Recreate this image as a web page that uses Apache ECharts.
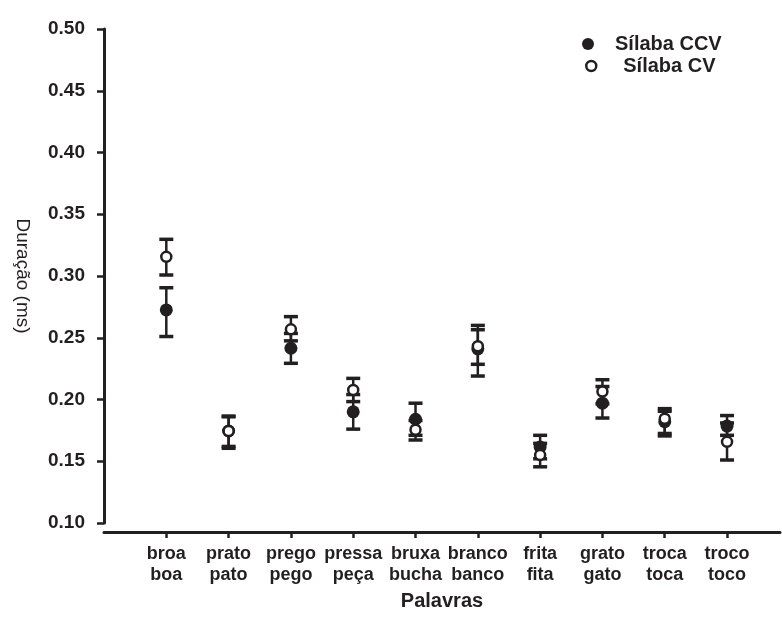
<!DOCTYPE html>
<html>
<head>
<meta charset="utf-8">
<script src="https://cdn.jsdelivr.net/npm/echarts@6/dist/echarts.min.js"></script>
<style>html,body{margin:0;padding:0;background:#fff}#c{width:782px;height:637px}</style>
</head>
<body>
<div id="c"></div>
<script>
// Data
var ccvWords = ['broa', 'prato', 'prego', 'pressa', 'bruxa', 'branco', 'frita', 'grato', 'troca', 'troco'];
var cvWords  = ['boa', 'pato', 'pego', 'peça', 'bucha', 'banco', 'fita', 'gato', 'toca', 'toco'];
var ccvMean = [0.2725, 0.1745, 0.2415, 0.190, 0.184, 0.241, 0.1615, 0.197, 0.182, 0.1785];
var ccvHigh = [0.2905, 0.1860, 0.2535, 0.204, 0.197, 0.260, 0.1710, 0.2105, 0.1905, 0.187];
var ccvLow  = [0.2510, 0.1605, 0.2293, 0.176, 0.171, 0.219, 0.1520, 0.185, 0.1705, 0.171];
var cvMean  = [0.3155, 0.1745, 0.2568, 0.2077, 0.1755, 0.2432, 0.155, 0.2065, 0.1845, 0.1657];
var cvHigh  = [0.3297, 0.1866, 0.2671, 0.2171, 0.183, 0.2565, 0.1645, 0.216, 0.1926, 0.181];
var cvLow   = [0.3008, 0.1620, 0.2475, 0.1983, 0.1672, 0.2285, 0.1455, 0.1965, 0.1725, 0.151];
var yTicks = { min: 0.10, max: 0.50, step: 0.05 };

var INK = '#231f20';
var FONT = '"Liberation Sans", Arial, sans-serif';
var positions = ccvWords.map(function (_, i) { return i + 1; });

function errData(lo, hi) {
  return positions.map(function (x, i) { return [x, lo[i], hi[i]]; });
}
function ptData(m) {
  return positions.map(function (x, i) { return [x, m[i]]; });
}
function renderErr(params, api) {
  var x = api.value(0);
  var pLo = api.coord([x, api.value(1)]);
  var pHi = api.coord([x, api.value(2)]);
  var hw = 7;
  return {
    type: 'group',
    children: [
      { type: 'line', shape: { x1: pHi[0], y1: pHi[1], x2: pLo[0], y2: pLo[1] }, style: { stroke: INK, lineWidth: 2.5 } },
      { type: 'line', shape: { x1: pHi[0] - hw, y1: pHi[1], x2: pHi[0] + hw, y2: pHi[1] }, style: { stroke: INK, lineWidth: 3.5 } },
      { type: 'line', shape: { x1: pLo[0] - hw, y1: pLo[1], x2: pLo[0] + hw, y2: pLo[1] }, style: { stroke: INK, lineWidth: 3.5 } }
    ]
  };
}

var chart = echarts.init(document.getElementById('c'));
chart.setOption({
  animation: false,
  backgroundColor: '#fff',
  textStyle: { fontFamily: FONT, color: INK },
  grid: { left: 104, right: 2, top: 29, bottom: 114, containLabel: false },
  legend: [
    {
      data: [{ name: 'Sílaba CCV', icon: 'circle', itemStyle: { color: INK, borderWidth: 0 } }],
      left: 582, top: 34, padding: 0, itemWidth: 12, itemHeight: 12,
      textStyle: { fontFamily: FONT, fontWeight: 'bold', fontSize: 20, color: INK, padding: [0, 0, 0, 16] }
    },
    {
      data: [{ name: 'Sílaba CV', icon: 'circle', itemStyle: { color: '#fff', borderColor: INK, borderWidth: 2.5 } }],
      left: 585, top: 56, padding: 0, itemWidth: 10, itemHeight: 10,
      textStyle: { fontFamily: FONT, fontWeight: 'bold', fontSize: 20, color: INK, padding: [0, 0, 0, 22] }
    }
  ],
  xAxis: {
    type: 'value',
    min: 0, max: 10.85, interval: 1,
    offset: 9,
    name: 'Palavras',
    nameLocation: 'middle',
    nameGap: 59,
    nameTextStyle: { fontFamily: FONT, fontWeight: 'bold', fontSize: 20, color: INK },
    axisLine: { show: true, onZero: false, lineStyle: { color: INK, width: 3 } },
    axisTick: { show: true, length: 6, lineStyle: { color: INK, width: 2.5 }, customValues: positions },
    axisLabel: {
      customValues: positions,
      margin: 12,
      fontFamily: FONT, fontWeight: 'bold', fontSize: 18, color: INK, lineHeight: 21,
      formatter: function (v) {
        var i = Math.round(v) - 1;
        return (i >= 0 && i < ccvWords.length) ? ccvWords[i] + '\n' + cvWords[i] : '';
      }
    },
    splitLine: { show: false }
  },
  yAxis: {
    type: 'value',
    min: yTicks.min, max: yTicks.max, interval: yTicks.step,
    offset: 2,
    name: 'Duração (ms)',
    nameLocation: 'middle',
    nameGap: 70,
    nameRotate: -90,
    nameTextStyle: { fontFamily: FONT, fontSize: 19, color: INK },
    axisLine: { show: true, lineStyle: { color: INK, width: 3 } },
    axisTick: { show: true, length: 7, lineStyle: { color: INK, width: 2.5 } },
    axisLabel: {
      margin: 17,
      fontFamily: FONT, fontWeight: 'bold', fontSize: 19, color: INK,
      formatter: function (v) { return v.toFixed(2); }
    },
    splitLine: { show: false }
  },
  series: [
    { name: 'ccv-err', type: 'custom', renderItem: renderErr, data: errData(ccvLow, ccvHigh), encode: { x: 0, y: [1, 2] }, z: 2 },
    { name: 'Sílaba CCV', type: 'scatter', symbol: 'circle', symbolSize: 13, data: ptData(ccvMean),
      itemStyle: { color: INK, opacity: 1 }, z: 3 },
    { name: 'cv-err', type: 'custom', renderItem: renderErr, data: errData(cvLow, cvHigh), encode: { x: 0, y: [1, 2] }, z: 4 },
    { name: 'Sílaba CV', type: 'scatter', symbol: 'circle', symbolSize: 10, data: ptData(cvMean),
      itemStyle: { color: '#fff', borderColor: INK, borderWidth: 2.5, opacity: 1 }, z: 5 }
  ]
});
</script>
</body>
</html>
